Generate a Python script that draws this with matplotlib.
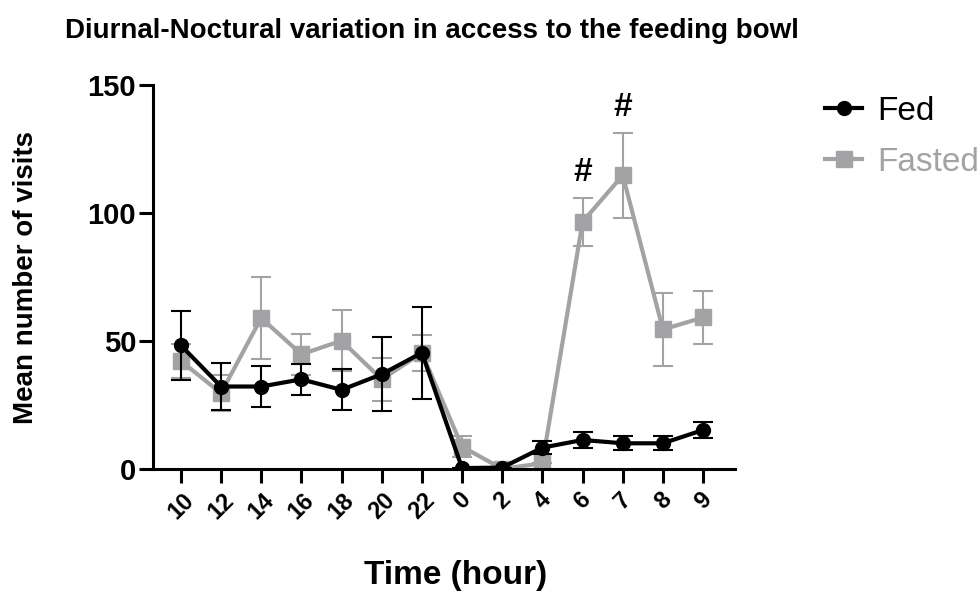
import numpy as np
import matplotlib.pyplot as plt
from matplotlib.lines import Line2D

plt.rcParams['font.family'] = ['Liberation Sans', 'DejaVu Sans']

# Hours of the day (recording started at 10:00)
hours = ['10', '12', '14', '16', '18', '20', '22', '0', '2', '4', '6', '7', '8', '9']

# Mean visits and SEM per group
fed_mean = [48.3, 32.2, 32.2, 35.0, 30.9, 37.0, 45.4, 0.3, 0.5, 8.3, 11.3, 10.0, 10.0, 15.2]
fed_sem = [13.5, 9.0, 8.0, 6.0, 8.0, 14.5, 18.0, 0.0, 0.0, 2.5, 3.3, 2.8, 2.8, 3.0]
fasted_mean = [42.2, 29.6, 59.0, 44.8, 50.1, 35.0, 45.3, 8.7, 0.0, 2.2, 96.6, 114.8, 54.5, 59.2]
fasted_sem = [6.5, 7.0, 16.2, 8.0, 12.0, 8.5, 7.0, 4.0, 0.0, 0.0, 9.3, 16.6, 14.3, 10.4]

# Significant time points (Fasted vs Fed)
sig_idx = [10, 11]

grey = '#a3a3a6'
x = np.arange(len(hours))

fig = plt.figure(figsize=(9.79, 5.92), dpi=100)
ax = fig.add_axes([0.156, 0.208, 0.595, 0.648])

ax.errorbar(x, fasted_mean, yerr=fasted_sem, color=grey, marker='s', markersize=11,
            linewidth=3, elinewidth=1.5, capsize=7, capthick=1.5, zorder=2)
ax.errorbar(x, fed_mean, yerr=fed_sem, color='black', marker='o', markersize=10,
            linewidth=3, elinewidth=1.5, capsize=7, capthick=1.5, zorder=3)

for i in sig_idx:
    ax.text(x[i], fasted_mean[i] + fasted_sem[i] + 4, '#', ha='center', va='bottom',
            fontsize=24, fontweight='bold')

ax.set_xlim(-0.7, 13.8)
ax.set_ylim(0, 150)
ax.set_yticks([0, 50, 100, 150])
ax.set_xticks(x)
ax.set_xticklabels(hours, rotation=45, ha='center', fontsize=17, fontweight='bold')
for lbl in ax.get_yticklabels():
    lbl.set_fontweight('bold')
    lbl.set_fontsize(21)

for side in ['top', 'right']:
    ax.spines[side].set_visible(False)
for side in ['left', 'bottom']:
    ax.spines[side].set_linewidth(2.2)
ax.tick_params(axis='both', width=2.2, length=10, direction='out')
ax.tick_params(axis='y', pad=2)
ax.tick_params(axis='x', pad=4)

ax.set_ylabel('Mean number of visits', fontsize=20, fontweight='bold')
ax.yaxis.set_label_coords(-0.195, 0.5)
ax.set_xlabel('Time (hour)', fontsize=24, fontweight='bold')
ax.xaxis.set_label_coords(0.52, -0.238)
fig.text(0.066, 0.948, 'Diurnal-Noctural variation in access to the feeding bowl',
         fontsize=20, fontweight='bold', ha='left', va='center')

handles = [Line2D([], [], color='black', marker='o', markersize=10, linewidth=3),
           Line2D([], [], color=grey, marker='s', markersize=11, linewidth=3)]
leg = fig.legend(handles, ['Fed', 'Fasted'], loc='upper left', bbox_to_anchor=(0.843, 0.838),
                 frameon=False, fontsize=24, handlelength=1.1, handletextpad=0.45,
                 labelspacing=0.6, borderpad=0, borderaxespad=0)
leg.get_texts()[1].set_color(grey)

fig.savefig('out.png', dpi=100)
